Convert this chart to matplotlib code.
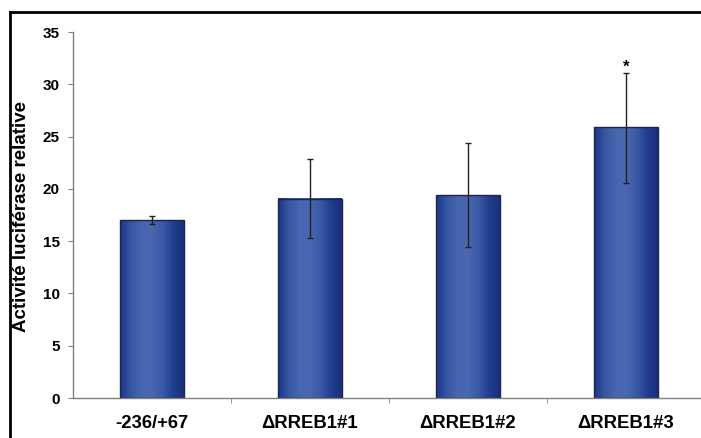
import numpy as np
import matplotlib
matplotlib.use("Agg")
import matplotlib.pyplot as plt
from matplotlib.colors import LinearSegmentedColormap
from matplotlib.lines import Line2D

categories = ["-236/+67", "\u0394RREB1#1", "\u0394RREB1#2", "\u0394RREB1#3"]
values = [17.0, 19.05, 19.4, 25.9]
err_low = [0.4, 3.75, 5.0, 5.3]
err_high = [0.4, 3.85, 5.0, 5.2]
stars = ["", "", "", "*"]
yticks = [0, 5, 10, 15, 20, 25, 30, 35]

plt.rcParams['font.family'] = ['Liberation Sans', 'DejaVu Sans']

fig = plt.figure(figsize=(7.01, 4.38), dpi=100)
W, H = 701, 438
ax = fig.add_axes([73 / W, 40 / H, 632 / W, 366 / H])

cmap = LinearSegmentedColormap.from_list(
    "bar", ["#1c3586", "#3556a3", "#4865ae", "#4a67b0", "#3a5aa6", "#213d8e", "#1a2f7a"])
grad = np.linspace(0, 1, 256).reshape(1, -1)
width = 0.4
x = np.arange(len(categories))
bars = ax.bar(x, values, width=width, color="none", edgecolor="#1a2550", linewidth=1.0, zorder=3)
for b in bars:
    ax.imshow(grad, cmap=cmap, aspect="auto",
              extent=[b.get_x(), b.get_x() + b.get_width(), 0, b.get_height()],
              zorder=2)
ax.errorbar(x, values, yerr=[err_low, err_high], fmt="none", ecolor="#222222",
            elinewidth=1.0, capsize=2.2, capthick=1.0, zorder=4)
for xi, v, eh, s in zip(x, values, err_high, stars):
    if s:
        ax.text(xi, v + eh - 0.2, s, ha="center", va="bottom", fontsize=12, fontweight="bold")

ax.set_xlim(-0.5, len(categories) - 0.5)
ax.set_ylim(0, 35)
ax.set_yticks(yticks)
ax.set_yticklabels([str(t) for t in yticks], fontsize=11, fontweight="bold")
ax.set_xticks(x)
ax.set_xticklabels(categories, fontsize=13.3, fontweight="bold")
ax.tick_params(axis="x", which="major", length=0, pad=12)
ax.set_xticks(np.arange(len(categories) - 1) + 0.5, minor=True)
ax.tick_params(axis="x", which="minor", length=3.6, color="#808080", direction="out")
ax.tick_params(axis="y", length=3.6, color="#808080", direction="out", pad=5.8)
for sp in ["top", "right"]:
    ax.spines[sp].set_visible(False)
for sp in ["left", "bottom"]:
    ax.spines[sp].set_color("#808080")
    ax.spines[sp].set_linewidth(1.0)
ax.set_ylabel("Activit\u00e9 lucif\u00e9rase relative", fontsize=13.5, fontweight="bold")
ax.yaxis.set_label_coords(-43 / 632, 0.495)

# figure frame (top and left edges visible)
fig.add_artist(Line2D([10 / W, 1.0], [1 - 12 / H, 1 - 12 / H], color="black", linewidth=2.0,
                      transform=fig.transFigure))
fig.add_artist(Line2D([10 / W, 10 / W], [0, 1 - 12 / H], color="black", linewidth=2.0,
                      transform=fig.transFigure))

fig.savefig("out.png", dpi=100)
